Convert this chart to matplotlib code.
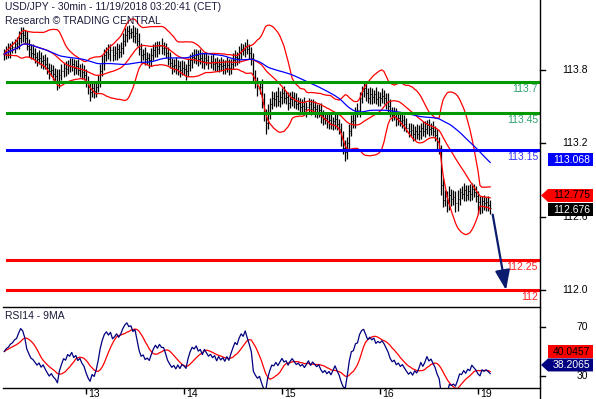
import numpy as np
import pandas as pd
import matplotlib
matplotlib.use('Agg')
import matplotlib.pyplot as plt
from matplotlib.patches import Polygon, FancyArrowPatch
from matplotlib.lines import Line2D

plt.rcParams['font.family'] = ['Liberation Sans', 'DejaVu Sans']

# USD/JPY 30min closes, 12 Nov ~04:00 -> 19 Nov 03:00 (CET)
close = [
    113.93, 113.95, 113.96, 113.98, 113.99, 114.01, 114.02,
    114.06, 114.10, 114.09, 114.06,
    114.00, 113.97, 113.94, 113.93, 113.91, 113.89, 113.90, 113.87, 113.88, 113.85,
    113.82, 113.79, 113.80, 113.77, 113.75, 113.71, 113.76,
    113.79, 113.82, 113.81, 113.84, 113.83, 113.85, 113.82, 113.83, 113.80, 113.81, 113.78, 113.76,
    113.71, 113.66, 113.62, 113.65, 113.63, 113.66, 113.71,
    113.79, 113.86, 113.92, 113.95, 113.93, 113.96, 113.92, 113.94, 113.97, 113.95, 113.98,
    114.04, 114.09, 114.12, 114.10, 114.11, 114.08, 114.10, 114.04,
    113.97, 113.92, 113.93, 113.89, 113.90, 113.88, 113.92,
    113.96, 113.99, 113.97, 114.00, 113.98, 113.98, 113.94,
    113.89, 113.86, 113.83, 113.84, 113.81, 113.83, 113.80, 113.82, 113.81, 113.79, 113.84,
    113.88, 113.91, 113.90,
    113.92, 113.89, 113.90, 113.87, 113.90, 113.88, 113.86, 113.87,
    113.85, 113.86, 113.83, 113.85, 113.83, 113.84,
    113.82, 113.84, 113.82, 113.85,
    113.88, 113.91, 113.90, 113.94, 113.97, 113.96, 114.00,
    113.97, 113.94, 113.90,
    113.74, 113.69, 113.65, 113.66,
    113.56, 113.44, 113.37,
    113.46, 113.52, 113.57,
    113.56, 113.59, 113.55, 113.58, 113.61, 113.57, 113.58, 113.53, 113.56, 113.58,
    113.55, 113.52, 113.53, 113.50, 113.51, 113.48, 113.50, 113.52, 113.48, 113.50, 113.48, 113.46, 113.47,
    113.43, 113.40, 113.41, 113.38, 113.39, 113.36, 113.38, 113.40, 113.36, 113.32,
    113.24, 113.16, 113.13, 113.20,
    113.30, 113.38, 113.39, 113.46, 113.47, 113.57,
    113.63, 113.65,
    113.61, 113.57, 113.60, 113.58, 113.60, 113.56, 113.58, 113.57, 113.59, 113.57,
    113.54, 113.51,
    113.46, 113.43, 113.44, 113.40, 113.41, 113.38, 113.39, 113.36,
    113.33, 113.30, 113.31, 113.28, 113.30, 113.28,
    113.30, 113.33, 113.30, 113.32, 113.35, 113.32, 113.33, 113.30, 113.27,
    113.21, 113.16,
    112.86,
    112.74, 112.77, 112.71, 112.78, 112.75, 112.76, 112.71, 112.75, 112.80,
    112.79, 112.82, 112.78, 112.81, 112.79, 112.83, 112.80, 112.77,
    112.72, 112.69, 112.73, 112.71, 112.72, 112.70, 112.676,
]

# wicks in pips beyond the open/close body
wick_up = [
    4, 5, 6, 4, 5, 4, 5, 6, 5, 5,
    4, 6, 5, 4, 7, 5, 4, 6, 5, 4,
    5, 6, 4, 5, 4, 5, 6, 5, 6, 4,
    5, 4, 6, 5, 4, 5, 6, 4, 5, 6,
    5, 4, 4, 6, 5, 4, 5, 6, 6, 5,
    4, 6, 5, 4, 6, 5, 4, 5, 6, 5,
    4, 5, 3, 6, 5, 4, 6, 5, 4, 6,
    5, 4, 6, 5, 4, 5, 4, 6, 5, 4,
    5, 6, 4, 5, 7, 5, 4, 6, 5, 4,
    6, 5, 4, 6, 5, 4, 7, 5, 4, 5,
    4, 5, 6, 4, 5, 4, 6, 5, 4, 7,
    5, 4, 6, 5, 4, 6, 5, 4, 3, 5,
    4, 5, 4, 6, 5, 4, 7, 5, 4, 6,
    5, 6, 5, 4, 7, 5, 4, 6, 5, 4,
    6, 5, 4, 6, 5, 4, 5, 7, 4, 5,
    4, 6, 5, 4, 5, 6, 4, 5, 4, 6,
    5, 4, 6, 5, 4, 5, 6, 7, 5, 6,
    5, 7, 4, 6, 5, 4, 5, 5, 4, 6,
    5, 4, 6, 5, 4, 6, 5, 4, 7, 5,
    4, 6, 5, 4, 5, 6, 4, 5, 4, 6,
    5, 4, 6, 5, 4, 5, 6, 4, 5, 4,
    5, 4, 5, 4, 3, 6, 5, 4, 7, 5,
    6, 5, 7, 4, 5, 6, 4, 5, 6, 5,
    4, 5, 4, 5, 4, 5, 4, 5, 4,
]
wick_dn = [
    5, 4, 5, 6, 4, 5, 4, 5, 4, 6,
    5, 4, 6, 5, 4, 5, 6, 4, 5, 6,
    4, 5, 6, 4, 5, 5, 7, 6, 4, 5,
    6, 4, 5, 4, 6, 5, 4, 6, 5, 4,
    5, 6, 7, 4, 6, 5, 4, 5, 4, 6,
    5, 4, 6, 5, 4, 6, 5, 4, 5, 4,
    6, 5, 4, 5, 6, 4, 5, 6, 4, 5,
    4, 6, 5, 4, 5, 6, 4, 5, 6, 4,
    5, 4, 6, 5, 4, 5, 6, 4, 5, 7,
    4, 5, 6, 4, 5, 6, 4, 5, 6, 4,
    5, 4, 5, 6, 4, 5, 4, 6, 5, 4,
    6, 5, 4, 5, 6, 4, 5, 4, 5, 4,
    5, 6, 5, 4, 6, 5, 7, 6, 9, 5,
    6, 4, 5, 6, 4, 5, 6, 4, 5, 6,
    4, 5, 6, 4, 5, 6, 4, 5, 6, 4,
    5, 4, 6, 5, 4, 6, 5, 4, 5, 6,
    4, 5, 6, 5, 4, 6, 5, 7, 6, 5,
    4, 5, 6, 4, 5, 4, 5, 6, 4, 5,
    6, 5, 4, 5, 6, 4, 5, 6, 5, 4,
    5, 4, 6, 5, 4, 5, 6, 4, 5, 4,
    6, 5, 4, 5, 6, 4, 5, 4, 6, 5,
    4, 5, 6, 5, 8, 6, 5, 7, 5, 6,
    5, 7, 6, 5, 4, 6, 5, 4, 6, 5,
    4, 5, 10, 7, 6, 5, 6, 5, 5,
]

day_labels = ['13', '14', '15', '16', '19']
day_start = [40, 88, 136, 184, 232]

resistance = [113.7, 113.45]
pivot = 113.15
support = [112.25, 112.0]

price_ticks = [113.8, 113.2, 112.6, 112.0]
rsi_ticks = [70, 30]

# last values shown in the right-hand boxes
ma50_last = 113.068
bb_mid_last = 112.775
price_last = 112.676
rsi_ma_last = 40.0457
rsi_last = 38.2065

W, H = 596, 399
fig = plt.figure(figsize=(W / 100, H / 100), dpi=100)


def fx(px):
    return px / W


def fy(py):
    return 1 - py / H


ax = fig.add_axes([fx(3), fy(307), fx(540) - fx(3), fy(0) - fy(307)])
rx = fig.add_axes([fx(3), fy(388), fx(540) - fx(3), fy(307) - fy(388)])

close = np.array(close)
n = len(close)
x = np.arange(n)
opn = np.r_[close[0], close[:-1]]
high = np.maximum(opn, close) + np.array(wick_up) * 0.01
low = np.minimum(opn, close) - np.array(wick_dn) * 0.01

s = pd.Series(close)
mid = s.rolling(20, min_periods=1).mean()
sd = s.rolling(20, min_periods=1).std(ddof=0)
ma50 = s.rolling(50, min_periods=1).mean()

# Wilder RSI(14), seeded with the average move
delta = np.diff(close, prepend=close[0])
ag = al = np.abs(delta).mean() / 2
rsi = []
for d in delta:
    ag = (ag * 13 + max(d, 0)) / 14
    al = (al * 13 + max(-d, 0)) / 14
    rsi.append(100 - 100 / (1 + ag / al))
rsi = pd.Series(rsi)
rsi_ma = rsi.rolling(9, min_periods=1).mean()

# price panel
ax.vlines(x, low, high, color='black', lw=0.9, zorder=3)
ax.hlines(opn, x - 0.45, x, color='black', lw=0.6, zorder=3)
ax.hlines(close, x, x + 0.45, color='black', lw=0.6, zorder=3)
ax.plot(x, mid + 2 * sd, color='red', lw=0.9, zorder=4)
ax.plot(x, mid - 2 * sd, color='red', lw=0.9, zorder=4)
ax.plot(x, mid, color='red', lw=0.9, zorder=4)
ax.plot(x, ma50, color='#0000ff', lw=0.9, zorder=4)

ax.set_xlim(-0.65, 262.4)
ax.set_ylim(111.864, 114.372)
rx.set_xlim(-0.65, 262.4)
rx.set_ylim(20.2, 86.3)

xm = (7 - 3) / (540 - 3)
levels = [(v, '#009900', '#2f9f6f') for v in resistance]
levels += [(pivot, '#0000ff', '#3333ff')]
levels += [(v, '#ff0000', '#ff2020') for v in support]
for v, c, tc in levels:
    ax.axhline(v, xmin=xm, xmax=1, color=c, lw=2.2, zorder=5)
    ax.annotate('{:g}'.format(v), xy=(1, v), xycoords=('axes fraction', 'data'),
                xytext=(-2, -7), textcoords='offset pixels', ha='right', va='center',
                color=tc, fontsize=7.5)

# forecast arrow towards the lower support
arrow = FancyArrowPatch((n, close[-1] - 0.035), (n + 7, support[-1] - 0.02),
                        arrowstyle='-|>,head_length=1.2,head_width=0.45',
                        mutation_scale=10, color='#0b1b6e', lw=1.6, zorder=6)
ax.add_patch(arrow)

for a in (ax, rx):
    for sp in ('left', 'top', 'right'):
        a.spines[sp].set_visible(False)
    a.spines['bottom'].set_linewidth(1.0)
    a.set_yticks([])
    a.tick_params(axis='x', which='both', length=0, labelbottom=False)
    a.patch.set_alpha(0)
ax.set_xticks([])

# RSI panel
rx.plot(x, rsi_ma, color='red', lw=0.9)
rx.plot(x, rsi, color='#000080', lw=0.9)
rx.set_xticks(day_start)
rx.tick_params(axis='x', direction='out', length=4, width=1, labelbottom=False)
for d, lab in zip(day_start, day_labels):
    rx.annotate(lab, xy=(d, 0), xycoords=('data', 'axes fraction'),
                xytext=(2, -6), textcoords='offset pixels', ha='left', va='center',
                fontsize=7.5, color='black')

# right axis line across both panels
fig.add_artist(Line2D([fx(540), fx(540)], [0, 1], color='black', lw=1.0))


def right_ticks(a, vals, fmt):
    for v in vals:
        yp = a.transData.transform((0, v))[1]
        fig.add_artist(Line2D([fx(540), fx(545)], [yp / H, yp / H], color='black', lw=1.0))
        a.annotate(fmt.format(v), xy=(1, v), xycoords=('axes fraction', 'data'),
                   xytext=(48, 0), textcoords='offset pixels', ha='right', va='center',
                   fontsize=7.5, color='black')


right_ticks(ax, price_ticks, '{:.1f}')
right_ticks(rx, rsi_ticks, '{:d}')


def value_box(a, v, text, fc, tc, pointer=False, shift=0):
    yp = a.transData.transform((0, v))[1] - shift
    h = 6.5
    x0, x1 = 548, 593
    pts = [(x0, yp - h), (x1, yp - h), (x1, yp + h), (x0, yp + h)]
    if pointer:
        pts = [(541, yp)] + pts
    fig.add_artist(Polygon(pts, closed=True, transform=None, facecolor=fc,
                           edgecolor='none', zorder=10))
    fig.text(fx((x0 + x1) / 2 + 1), yp / H, text, ha='center', va='center',
             color=tc, fontsize=7.5, zorder=11)


fig.canvas.draw()
value_box(ax, ma50_last, '113.068', '#0000ff', 'white')
value_box(ax, bb_mid_last, '112.775', '#ff0000', 'black', pointer=True)
value_box(ax, price_last, '112.676', 'black', 'white', shift=2)
value_box(rx, rsi_ma_last, '40.0457', '#ff0000', 'black', shift=-12)
value_box(rx, rsi_last, '38.2065', '#000080', 'white', pointer=True, shift=-1)

# headers
tcol = '#1a1a3a'
fig.text(fx(5), fy(7), 'USD/JPY - 30min - 11/19/2018 03:20:41 (CET)', ha='left', va='center',
         fontsize=7.5, color=tcol)
fig.text(fx(5), fy(21), 'Research \u00a9 TRADING CENTRAL', ha='left', va='center',
         fontsize=7.5, color=tcol)
fig.text(fx(5), fy(316), 'RSI14 - 9MA', ha='left', va='center', fontsize=7.5, color=tcol)

fig.savefig('out.png', dpi=100)
